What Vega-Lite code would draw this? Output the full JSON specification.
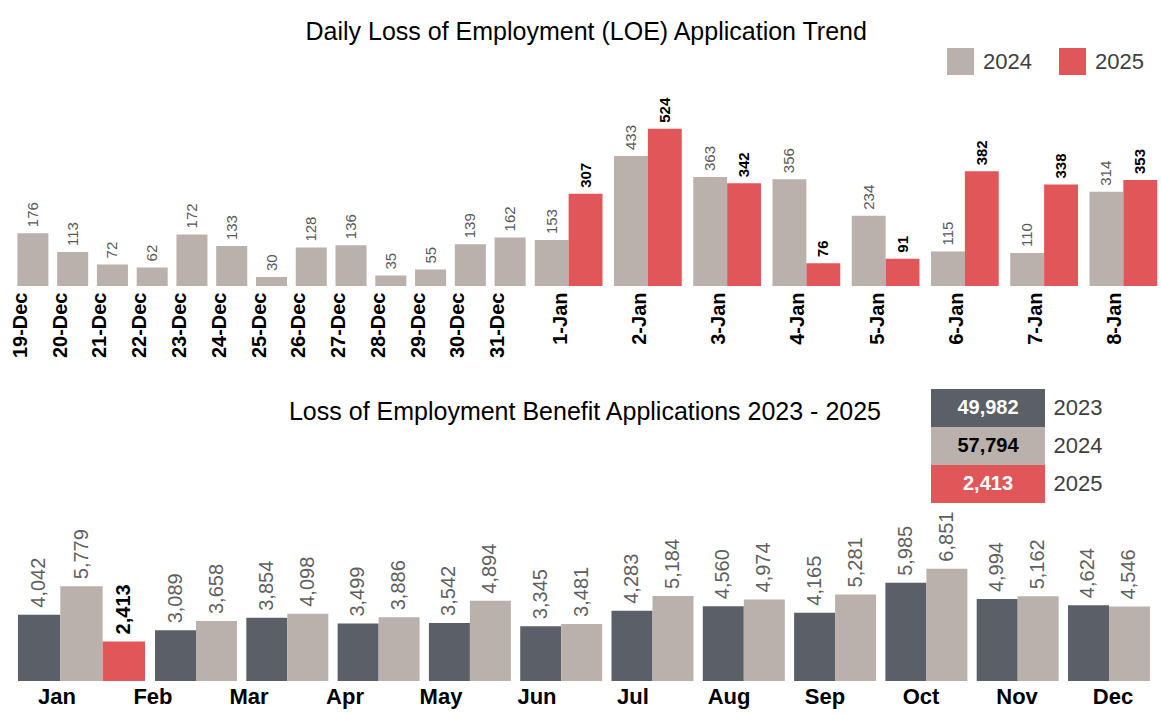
{
  "$schema": "https://vega.github.io/schema/vega-lite/v6.json",
  "padding": {"left": 10, "top": 20, "right": 0, "bottom": 0},
  "background": "white",
  "config": {
    "view": {"stroke": null},
    "font": "Liberation Sans",
    "text": {"font": "Liberation Sans"},
    "axis": {"labelFont": "Liberation Sans"},
    "legend": {"labelFont": "Liberation Sans"},
    "title": {"font": "Liberation Sans"}
  },
  "datasets": {
    "dec": [
      {"date": "19-Dec", "year": "2024", "value": 176},
      {"date": "20-Dec", "year": "2024", "value": 113},
      {"date": "21-Dec", "year": "2024", "value": 72},
      {"date": "22-Dec", "year": "2024", "value": 62},
      {"date": "23-Dec", "year": "2024", "value": 172},
      {"date": "24-Dec", "year": "2024", "value": 133},
      {"date": "25-Dec", "year": "2024", "value": 30},
      {"date": "26-Dec", "year": "2024", "value": 128},
      {"date": "27-Dec", "year": "2024", "value": 136},
      {"date": "28-Dec", "year": "2024", "value": 35},
      {"date": "29-Dec", "year": "2024", "value": 55},
      {"date": "30-Dec", "year": "2024", "value": 139},
      {"date": "31-Dec", "year": "2024", "value": 162}
    ],
    "jan": [
      {"date": "1-Jan", "year": "2024", "value": 153},
      {"date": "1-Jan", "year": "2025", "value": 307},
      {"date": "2-Jan", "year": "2024", "value": 433},
      {"date": "2-Jan", "year": "2025", "value": 524},
      {"date": "3-Jan", "year": "2024", "value": 363},
      {"date": "3-Jan", "year": "2025", "value": 342},
      {"date": "4-Jan", "year": "2024", "value": 356},
      {"date": "4-Jan", "year": "2025", "value": 76},
      {"date": "5-Jan", "year": "2024", "value": 234},
      {"date": "5-Jan", "year": "2025", "value": 91},
      {"date": "6-Jan", "year": "2024", "value": 115},
      {"date": "6-Jan", "year": "2025", "value": 382},
      {"date": "7-Jan", "year": "2024", "value": 110},
      {"date": "7-Jan", "year": "2025", "value": 338},
      {"date": "8-Jan", "year": "2024", "value": 314},
      {"date": "8-Jan", "year": "2025", "value": 353}
    ],
    "monthly": [
      {"month": "Jan", "year": "2023", "value": 4042},
      {"month": "Jan", "year": "2024", "value": 5779},
      {"month": "Jan", "year": "2025", "value": 2413},
      {"month": "Feb", "year": "2023", "value": 3089},
      {"month": "Feb", "year": "2024", "value": 3658},
      {"month": "Mar", "year": "2023", "value": 3854},
      {"month": "Mar", "year": "2024", "value": 4098},
      {"month": "Apr", "year": "2023", "value": 3499},
      {"month": "Apr", "year": "2024", "value": 3886},
      {"month": "May", "year": "2023", "value": 3542},
      {"month": "May", "year": "2024", "value": 4894},
      {"month": "Jun", "year": "2023", "value": 3345},
      {"month": "Jun", "year": "2024", "value": 3481},
      {"month": "Jul", "year": "2023", "value": 4283},
      {"month": "Jul", "year": "2024", "value": 5184},
      {"month": "Aug", "year": "2023", "value": 4560},
      {"month": "Aug", "year": "2024", "value": 4974},
      {"month": "Sep", "year": "2023", "value": 4165},
      {"month": "Sep", "year": "2024", "value": 5281},
      {"month": "Oct", "year": "2023", "value": 5985},
      {"month": "Oct", "year": "2024", "value": 6851},
      {"month": "Nov", "year": "2023", "value": 4994},
      {"month": "Nov", "year": "2024", "value": 5162},
      {"month": "Dec", "year": "2023", "value": 4624},
      {"month": "Dec", "year": "2024", "value": 4546}
    ]
  },
  "resolve": {"scale": {"color": "independent"}, "legend": {"color": "independent"}},
  "spacing": 31,
  "vconcat": [
    {
      "title": {"text": "Daily Loss of Employment (LOE) Application Trend", "fontSize": 25, "fontWeight": "normal", "color": "#000000", "anchor": "middle", "offset": 0},
      "spacing": 0,
      "resolve": {"scale": {"color": "independent", "xOffset": "independent"}, "legend": {"color": "independent"}},
      "hconcat": [
        {
          "data": {"name": "dec"},
          "width": 517,
          "height": 241,
          "encoding": {
            "x": {"field": "date", "type": "nominal", "sort": null,
              "scale": {"type": "band", "paddingInner": 0.22, "paddingOuter": 0.11},
              "axis": {"title": null, "labelAngle": -90, "labelFontSize": 20, "labelFontWeight": "bold", "labelColor": "#000000", "labelPadding": 6, "labelOffset": -12, "ticks": false, "domain": false}},
            "y": {"field": "value", "type": "quantitative", "scale": {"domain": [0, 803]}, "axis": null}
          },
          "layer": [
            {"mark": {"type": "bar", "color": "#BAB0AC"}},
            {"mark": {"type": "text", "angle": -90, "align": "left", "baseline": "middle", "dx": 6, "fontSize": 15, "color": "#595959"},
             "encoding": {"text": {"field": "value", "type": "quantitative"}}}
          ]
        },
        {
          "data": {"name": "jan"},
          "width": 632,
          "height": 241,
          "encoding": {
            "x": {"field": "date", "type": "nominal", "sort": null,
              "scale": {"type": "band", "paddingInner": 0.145, "paddingOuter": 0.06},
              "axis": {"title": null, "labelAngle": -90, "labelFontSize": 20, "labelFontWeight": "bold", "labelColor": "#000000", "labelPadding": 6, "labelOffset": -8, "ticks": false, "domain": false}},
            "xOffset": {"field": "year", "type": "nominal", "scale": {"type": "band", "domain": ["2024", "2025"], "paddingInner": 0, "paddingOuter": 0}},
            "y": {"field": "value", "type": "quantitative", "scale": {"domain": [0, 803]}, "axis": null}
          },
          "layer": [
            {"mark": "bar",
             "encoding": {"color": {"field": "year", "type": "nominal",
               "scale": {"domain": ["2024", "2025"], "range": ["#BAB0AC", "#E15759"]},
               "legend": {"title": null, "orient": "none", "legendX": 417, "legendY": 3, "direction": "horizontal", "symbolType": "square", "symbolSize": 729, "symbolStrokeWidth": 0, "symbolOpacity": 1, "labelFontSize": 22, "labelColor": "#404040", "labelOffset": 9, "columnPadding": 27}}}},
            {"transform": [{"filter": "datum.year == '2024'"}],
             "mark": {"type": "text", "angle": -90, "align": "left", "baseline": "middle", "dx": 6, "fontSize": 15, "color": "#595959"},
             "encoding": {"text": {"field": "value", "type": "quantitative"}}},
            {"transform": [{"filter": "datum.year == '2025'"}],
             "mark": {"type": "text", "angle": -90, "align": "left", "baseline": "middle", "dx": 6, "fontSize": 15, "fontWeight": "bold", "color": "#000000"},
             "encoding": {"text": {"field": "value", "type": "quantitative"}}}
          ]
        }
      ]
    },
    {
      "spacing": 7,
      "vconcat": [
        {
          "spacing": 50,
          "hconcat": [
            {
              "data": {"values": []},
              "mark": "point",
              "width": 868,
              "height": 1,
              "title": {"text": "Loss of Employment Benefit Applications 2023 - 2025", "orient": "bottom", "anchor": "end", "fontSize": 25, "fontWeight": "normal", "color": "#000000", "offset": 10}
            },
            {
              "data": {"name": "monthly"},
              "transform": [{"aggregate": [{"op": "sum", "field": "value", "as": "total"}], "groupby": ["year"]}],
              "width": 114,
              "height": 114,
              "encoding": {
                "y": {"field": "year", "type": "nominal", "sort": ["2023", "2024", "2025"],
                  "scale": {"paddingInner": 0, "paddingOuter": 0},
                  "axis": {"orient": "right", "title": null, "domain": false, "ticks": false, "labelPadding": 8, "labelFontSize": 22, "labelColor": "#404040"}}
              },
              "layer": [
                {"mark": "rect",
                 "encoding": {"color": {"field": "year", "type": "nominal", "scale": {"domain": ["2023", "2024", "2025"], "range": ["#5B5F67", "#BAB0AC", "#E15759"]}, "legend": null}}},
                {"mark": {"type": "text", "fontSize": 20, "fontWeight": "bold", "baseline": "middle"},
                 "encoding": {"text": {"field": "total", "type": "quantitative", "format": ","},
                   "color": {"condition": {"test": "datum.year == '2024'", "value": "#000000"}, "value": "#FFFFFF"}}}
              ]
            }
          ]
        },
        {
          "spacing": 1,
          "vconcat": [
            {
              "spacing": 0,
              "resolve": {"scale": {"color": "independent", "xOffset": "independent", "x": "independent", "y": "independent"}, "legend": {"color": "independent"}},
              "hconcat": [
                {
                  "data": {"name": "monthly"},
                  "transform": [{"filter": "datum.month == 'Jan'"}],
                  "width": 137,
                  "height": 171,
                  "encoding": {
                    "x": {"field": "month", "type": "nominal", "axis": null, "scale": {"type": "band", "paddingInner": 0, "paddingOuter": 0.039}},
                    "xOffset": {"field": "year", "type": "nominal", "scale": {"type": "band", "domain": ["2023", "2024", "2025"], "paddingInner": 0, "paddingOuter": 0}},
                    "y": {"field": "value", "type": "quantitative", "scale": {"domain": [0, 10427]}, "axis": null}
                  },
                  "layer": [
                    {"mark": "bar",
                     "encoding": {"color": {"field": "year", "type": "nominal", "scale": {"domain": ["2023", "2024", "2025"], "range": ["#5B5F67", "#BAB0AC", "#E15759"]}, "legend": null}}},
                    {"transform": [{"filter": "datum.year != '2025'"}],
                     "mark": {"type": "text", "angle": -90, "align": "left", "baseline": "middle", "dx": 7, "fontSize": 20, "color": "#5F5F5F"},
                     "encoding": {"text": {"field": "value", "type": "quantitative", "format": ","}}},
                    {"transform": [{"filter": "datum.year == '2025'"}],
                     "mark": {"type": "text", "angle": -90, "align": "left", "baseline": "middle", "dx": 7, "fontSize": 20, "fontWeight": "bold", "color": "#000000"},
                     "encoding": {"text": {"field": "value", "type": "quantitative", "format": ","}}}
                  ]
                },
                {
                  "data": {"name": "monthly"},
                  "transform": [{"filter": "datum.month != 'Jan'"}],
                  "width": 1005,
                  "height": 171,
                  "encoding": {
                    "x": {"field": "month", "type": "nominal", "axis": null,
                      "sort": ["Feb", "Mar", "Apr", "May", "Jun", "Jul", "Aug", "Sep", "Oct", "Nov", "Dec"],
                      "scale": {"type": "band", "paddingInner": 0.102, "paddingOuter": 0.055}},
                    "xOffset": {"field": "year", "type": "nominal", "scale": {"type": "band", "domain": ["2023", "2024"], "paddingInner": 0, "paddingOuter": 0}},
                    "y": {"field": "value", "type": "quantitative", "scale": {"domain": [0, 10427]}, "axis": null}
                  },
                  "layer": [
                    {"mark": "bar",
                     "encoding": {"color": {"field": "year", "type": "nominal", "scale": {"domain": ["2023", "2024", "2025"], "range": ["#5B5F67", "#BAB0AC", "#E15759"]}, "legend": null}}},
                    {"mark": {"type": "text", "angle": -90, "align": "left", "baseline": "middle", "dx": 7, "fontSize": 20, "color": "#5F5F5F"},
                     "encoding": {"text": {"field": "value", "type": "quantitative", "format": ","}}}
                  ]
                }
              ]
            },
            {
              "data": {"name": "monthly"},
              "transform": [{"filter": "datum.year == '2023'"}],
              "width": 1144,
              "height": 30,
              "mark": {"type": "text", "fontSize": 22, "fontWeight": "bold", "color": "#000000", "baseline": "middle"},
              "encoding": {
                "x": {"field": "month", "type": "nominal", "axis": null,
                  "sort": ["Jan", "Feb", "Mar", "Apr", "May", "Jun", "Jul", "Aug", "Sep", "Oct", "Nov", "Dec"],
                  "scale": {"type": "point", "padding": 0.458}},
                "text": {"field": "month"}
              }
            }
          ]
        }
      ]
    }
  ]
}
